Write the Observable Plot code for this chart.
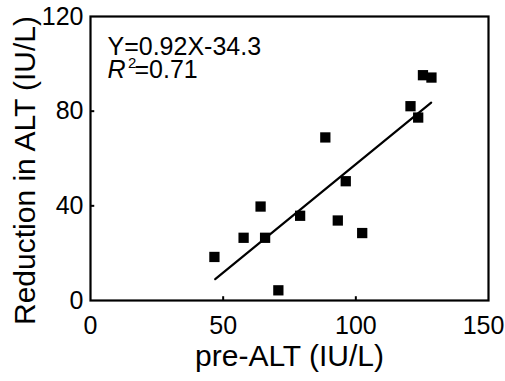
<!DOCTYPE html>
<html>
<head>
<meta charset="utf-8">
<script src="https://cdn.jsdelivr.net/npm/d3@7"></script>
<script src="https://cdn.jsdelivr.net/npm/@observablehq/plot@0.6"></script>
<style>
  html, body { margin: 0; padding: 0; background: #fff; }
</style>
</head>
<body>
<div id="chart"></div>
<script>
const preALT = [46.7, 57.7, 64.1, 65.8, 70.8, 79.0, 88.5, 93.2, 96.2, 102.4, 120.6, 123.5, 125.3, 128.5];
const reduction = [18.4, 26.5, 39.7, 26.5, 4.3, 35.8, 68.9, 33.8, 50.4, 28.5, 82.1, 77.3, 95.2, 94.2];
const fitX = [47, 128.4];
const fitY = [9.0, 83.6];
const xTicks = [0, 50, 100];
const xLastTick = [150];
const yTicks = [0, 40, 80, 120];
const xInnerTicks = [50, 100];
const yInnerTicks = [40, 80];
const xLabel = "pre-ALT (IU/L)";
const yLabel = "Reduction in ALT (IU/L)";
const eqText = "Y=0.92X-34.3";
const r2Value = "=0.71";

const points = preALT.map((x, i) => ({x, y: reduction[i]}));
const fit = fitX.map((x, i) => ({x, y: fitY[i]}));

const font = "'Liberation Sans', Arial, Helvetica, sans-serif";

const chart = Plot.plot({
  width: 505,
  height: 381,
  marginLeft: 90,
  marginRight: 17,
  marginTop: 16,
  marginBottom: 81,
  style: {fontFamily: font, background: "#fff", color: "#000"},
  x: {domain: [0, 150], axis: null},
  y: {domain: [0, 120]},
  marks: [
    Plot.text(xTicks, {x: d => d, frameAnchor: "bottom", lineAnchor: "top", dy: 16, fontSize: 25, fill: "#000"}),
    Plot.text(xLastTick, {x: d => d, frameAnchor: "bottom", lineAnchor: "top", dy: 16, dx: -5, fontSize: 25, fill: "#000"}),
    Plot.axisY({ticks: yTicks, tickSize: 0, tickPadding: 7, fontSize: 25, label: null}),
    Plot.ruleX(xInnerTicks, {y1: 0, y2: 1.6, stroke: "#000", strokeWidth: 2}),
    Plot.ruleY(yInnerTicks, {x1: 0, x2: 1.6, stroke: "#000", strokeWidth: 2}),
    Plot.frame({stroke: "#000", strokeWidth: 2.2}),
    Plot.line(fit, {x: "x", y: "y", stroke: "#000", strokeWidth: 2.2}),
    Plot.dot(points, {x: "x", y: "y", symbol: "square", r: 5.8, fill: "#000", stroke: "none"}),
    Plot.text([xLabel], {frameAnchor: "bottom", lineAnchor: "middle", dy: 56, fontSize: 30, fill: "#000"}),
    Plot.text([yLabel], {frameAnchor: "left", textAnchor: "middle", lineAnchor: "middle", dx: -65, dy: 12, rotate: -90, fontSize: 30, fill: "#000"}),
    Plot.text([eqText], {frameAnchor: "top-left", lineAnchor: "middle", dx: 17, dy: 30, textAnchor: "start", fontSize: 25, fill: "#000"}),
    Plot.text(["R"], {frameAnchor: "top-left", lineAnchor: "middle", dx: 17, dy: 53, textAnchor: "start", fontSize: 25, fontStyle: "italic", fill: "#000"}),
    Plot.text(["2"], {frameAnchor: "top-left", lineAnchor: "middle", dx: 37.5, dy: 47, textAnchor: "start", fontSize: 15, fill: "#000"}),
    Plot.text([r2Value], {frameAnchor: "top-left", lineAnchor: "middle", dx: 44, dy: 53, textAnchor: "start", fontSize: 25, fill: "#000"})
  ]
});
document.getElementById("chart").appendChild(chart);
</script>
</body>
</html>
